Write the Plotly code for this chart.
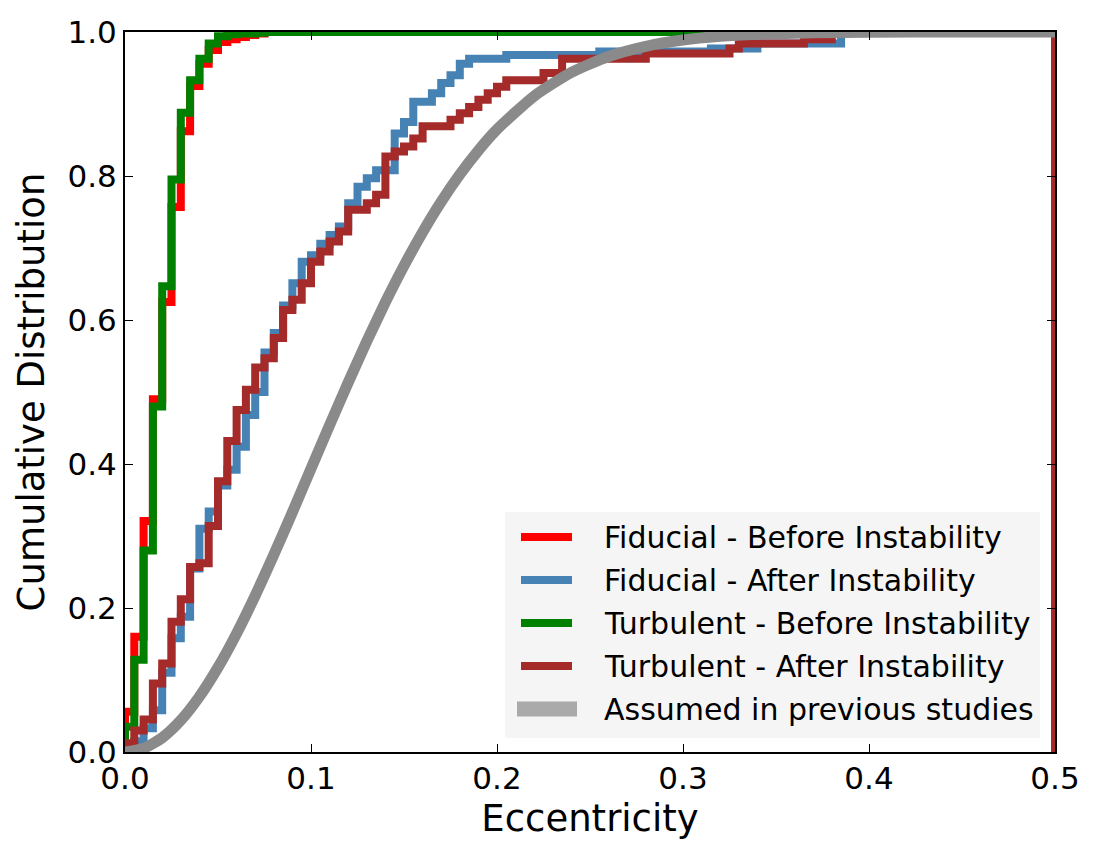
import plotly.graph_objects as go

# ---------------- data (cumulative fraction per histogram bin, bin width 0.005) ----------------
bin_width = 0.005
n_bins = 100

fiducial_before = [0.056, 0.16, 0.321, 0.49, 0.625, 0.757, 0.862, 0.925, 0.956, 0.975,
                   0.986, 0.99, 0.993, 0.996, 0.998, 1.0]

fiducial_after = [0.005, 0.015, 0.033, 0.058, 0.11, 0.158, 0.188, 0.255, 0.31, 0.334,
                  0.37, 0.392, 0.424, 0.468, 0.50, 0.555, 0.582, 0.62, 0.651, 0.681,
                  0.69, 0.706, 0.718, 0.73, 0.762, 0.785, 0.797, 0.808, 0.808, 0.859,
                  0.875, 0.903, 0.903, 0.915, 0.929, 0.94, 0.956, 0.963, 0.963, 0.963,
                  0.963, 0.968, 0.968, 0.968, 0.968, 0.968, 0.968, 0.968, 0.968, 0.968,
                  0.968, 0.973, 0.973, 0.973, 0.973, 0.973, 0.973, 0.973, 0.973, 0.973,
                  0.973, 0.973, 0.973, 0.977, 0.977, 0.977, 0.977, 0.977, 0.984, 0.984,
                  0.984, 0.984, 0.984, 0.984, 0.984, 0.984, 0.984, 1.0]

turbulent_before = [0.035, 0.128, 0.28, 0.48, 0.647, 0.795, 0.888, 0.933, 0.963, 0.984,
                    0.994, 0.997, 0.998, 0.998, 0.999, 1.0]

turbulent_after = [0.012, 0.03, 0.045, 0.095, 0.123, 0.181, 0.212, 0.257, 0.262, 0.314,
                   0.376, 0.432, 0.475, 0.503, 0.534, 0.547, 0.575, 0.614, 0.628, 0.651,
                   0.681, 0.695, 0.709, 0.723, 0.753, 0.753, 0.762, 0.774, 0.827, 0.834,
                   0.841, 0.852, 0.869, 0.869, 0.869, 0.878, 0.887, 0.896, 0.906, 0.915,
                   0.924, 0.933, 0.933, 0.933, 0.933, 0.943, 0.943, 0.963, 0.963, 0.963,
                   0.963, 0.963, 0.963, 0.963, 0.963, 0.963, 0.970, 0.970, 0.970, 0.970,
                   0.970, 0.970, 0.970, 0.970, 0.970, 0.977, 0.984, 0.984, 0.984, 0.984,
                   0.984, 0.984, 0.984, 0.99, 0.99, 0.99, 1.0]

# "Assumed in previous studies" curve
assumed_e = [0.0, 0.01, 0.02, 0.03, 0.04, 0.05, 0.06, 0.07, 0.08, 0.09, 0.10, 0.11, 0.12,
             0.13, 0.14, 0.15, 0.16, 0.17, 0.18, 0.19, 0.20, 0.22, 0.24, 0.26, 0.28, 0.30,
             0.32, 0.34, 0.37, 0.40, 0.45, 0.50]
assumed_cdf = [0.0, 0.005, 0.0198, 0.044, 0.0769, 0.1175, 0.1647, 0.2173, 0.2739, 0.333,
               0.3935, 0.4539, 0.5132, 0.5704, 0.6247, 0.6753, 0.722, 0.7643, 0.8021, 0.8355,
               0.8647, 0.9111, 0.9439, 0.966, 0.9802, 0.9889, 0.994, 0.9969, 0.9989, 0.9997,
               1.0, 1.0]

labels = ["Fiducial - Before Instability", "Fiducial - After Instability",
          "Turbulent - Before Instability", "Turbulent - After Instability",
          "Assumed in previous studies"]
colors = ["#ff0000", "#4682b4", "#008000", "#a52a2a", "#8a8a8a"]
legend_colors = ["#ff0000", "#4682b4", "#008000", "#a52a2a", "#aaaaaa"]

x_ticks = [0.0, 0.1, 0.2, 0.3, 0.4, 0.5]
y_ticks = [0.0, 0.2, 0.4, 0.6, 0.8, 1.0]


def step_path(levels):
    """Outline of a cumulative step histogram (matplotlib histtype='step')."""
    full = list(levels) + [levels[-1]] * (n_bins - len(levels))
    xs = [0.0] + [round(k * bin_width, 6) for k in range(n_bins)] + [n_bins * bin_width]
    ys = [0.0] + full + [0.0]
    return xs, ys


FONT = "DejaVu Sans"
fig = go.Figure()

for lvl, name, col in zip([fiducial_before, fiducial_after, turbulent_before, turbulent_after],
                          labels[:4], colors[:4]):
    xs, ys = step_path(lvl)
    fig.add_trace(go.Scatter(x=xs, y=ys, mode="lines", name=name,
                             line=dict(color=col, width=8, shape="hv"),
                             showlegend=False, hoverinfo="skip"))

fig.add_trace(go.Scatter(x=assumed_e, y=assumed_cdf, mode="lines", name=labels[4],
                         line=dict(color=colors[4], width=11, shape="spline", smoothing=0.6),
                         showlegend=False, hoverinfo="skip"))

# ---------------- manual legend (matplotlib-like) ----------------
L, R, B, T = 125, 1055, 752, 32


def px_x(p):
    return (p - L) / (R - L)


def px_y(p):
    return (B - p) / (B - T)


shapes = [dict(type="rect", xref="paper", yref="paper",
               x0=px_x(505), x1=px_x(1040), y0=px_y(738), y1=px_y(512),
               fillcolor="#f5f5f5", line=dict(width=0), layer="above")]
annotations = []
rows = [537, 580, 623, 666, 709]
for i, (lab, col, ry) in enumerate(zip(labels, legend_colors, rows)):
    w = 15 if i == 4 else 8
    x0, x1 = (517, 577) if i == 4 else (521, 572)
    shapes.append(dict(type="line", xref="paper", yref="paper",
                       x0=px_x(x0), x1=px_x(x1), y0=px_y(ry), y1=px_y(ry),
                       line=dict(color=col, width=w), layer="above"))
    annotations.append(dict(text=lab, xref="paper", yref="paper", x=px_x(602), y=px_y(ry),
                            xanchor="left", yanchor="middle", showarrow=False,
                            font=dict(family=FONT, size=30, color="black")))

axis_common = dict(showline=True, linecolor="black", linewidth=2, mirror="ticks",
                   ticks="inside", ticklen=8, tickwidth=1, tickcolor="black",
                   showgrid=False, zeroline=False,
                   tickfont=dict(family=FONT, size=31, color="black"))

fig.update_layout(
    width=1098, height=860,
    margin=dict(l=L, r=1098 - R, t=T, b=860 - B, autoexpand=False),
    paper_bgcolor="white", plot_bgcolor="white",
    shapes=shapes, annotations=annotations,
    xaxis=dict(range=[0, 0.5], tickvals=x_ticks, ticktext=[f"{v:.1f}" for v in x_ticks],
               ticklabelstandoff=-2,
               title=dict(text="Eccentricity", font=dict(family=FONT, size=37, color="black"),
                          standoff=10),
               automargin=False, **axis_common),
    yaxis=dict(range=[0, 1], tickvals=y_ticks, ticktext=[f"{v:.1f}" for v in y_ticks],
               title=dict(text="Cumulative Distribution",
                          font=dict(family=FONT, size=37, color="black"), standoff=12),
               automargin=False, **axis_common),
)

fig.write_html("out.html")
